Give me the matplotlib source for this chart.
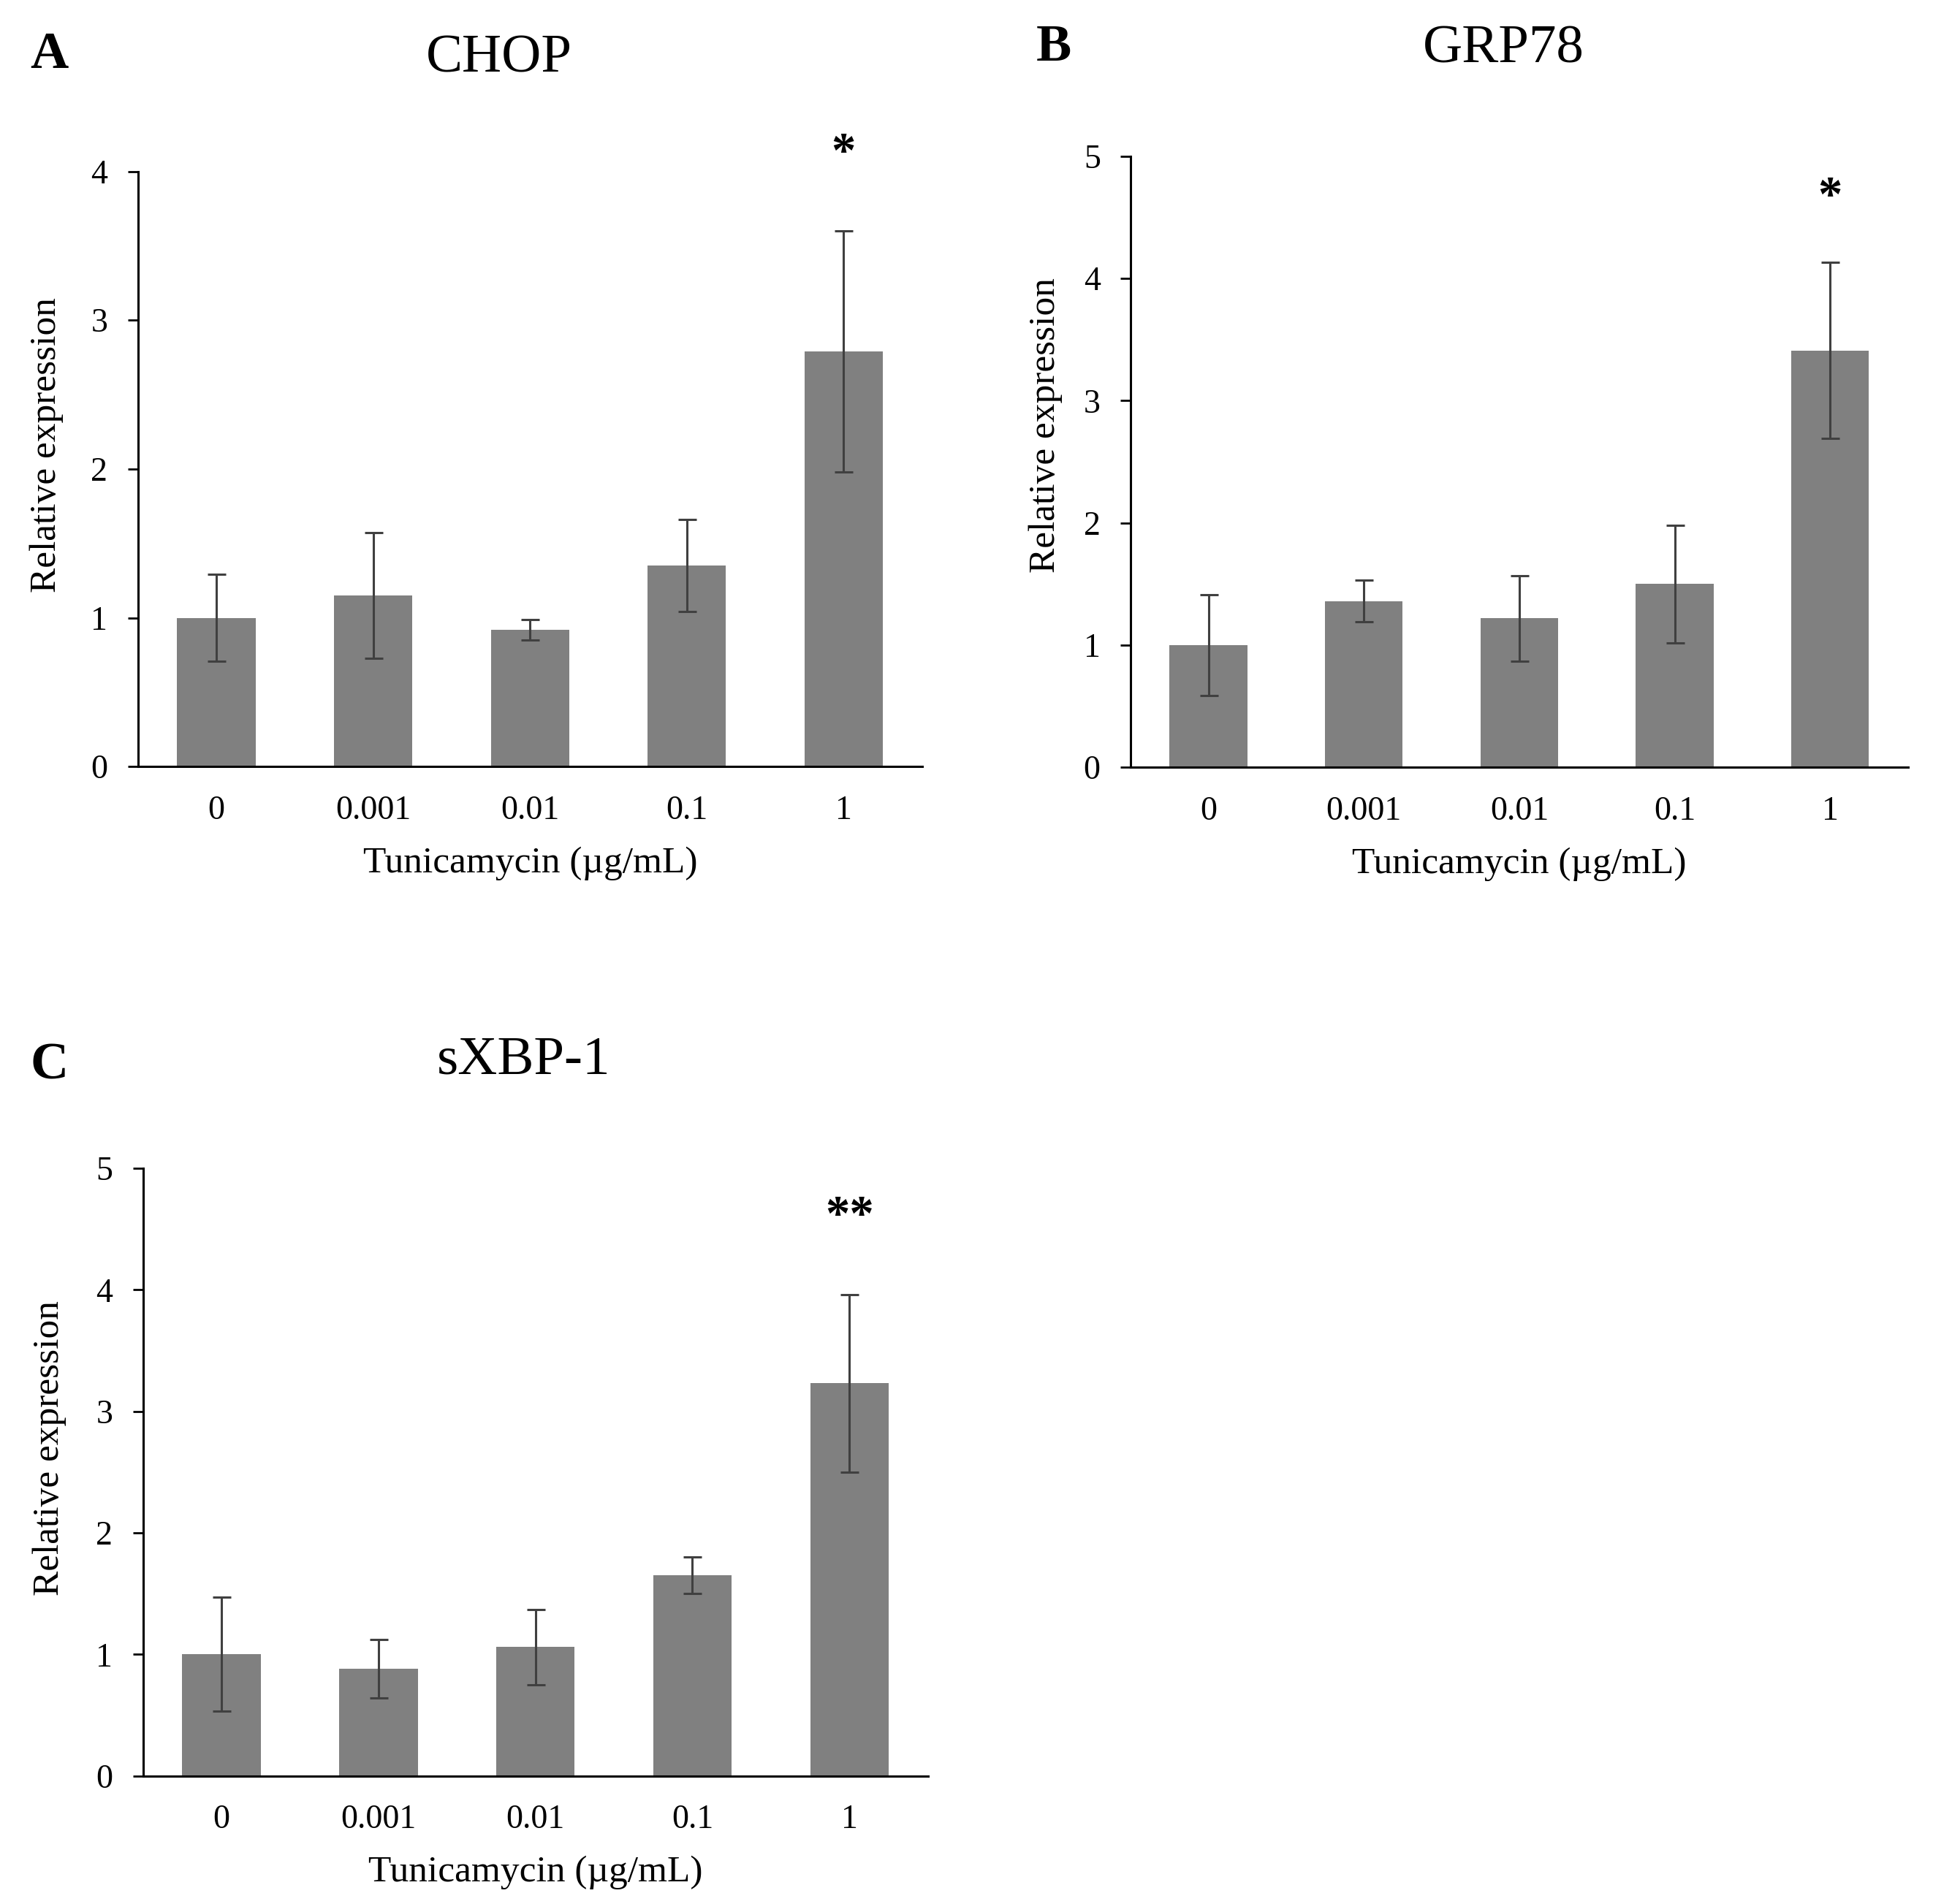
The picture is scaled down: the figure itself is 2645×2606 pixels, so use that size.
import numpy as np
import matplotlib.pyplot as plt
from matplotlib.transforms import blended_transform_factory

plt.rcParams['font.family'] = ['Liberation Serif', 'DejaVu Serif']

doses = ['0', '0.001', '0.01', '0.1', '1']

chop_mean = [1.00, 1.15, 0.92, 1.35, 2.79]
chop_err = [0.29, 0.42, 0.07, 0.31, 0.81]

grp78_mean = [1.00, 1.36, 1.22, 1.50, 3.41]
grp78_err = [0.41, 0.17, 0.35, 0.48, 0.72]

sxbp1_mean = [1.00, 0.88, 1.06, 1.65, 3.23]
sxbp1_err = [0.47, 0.24, 0.31, 0.15, 0.73]

fig = plt.figure(figsize=(26.45, 26.06), dpi=100)


def draw_panel(rect, means, errs, ymax, title, letter, star, star_y,
               title_xy, letter_xy, ylab_xy):
    ax = fig.add_axes(rect)
    x = np.arange(len(doses))
    ax.bar(x, means, width=0.5, color='#808080', zorder=1)
    ax.errorbar(x, means, yerr=errs, fmt='none', ecolor='#404040',
                elinewidth=2.2, capsize=9, capthick=2.2, zorder=2)
    ax.set_xlim(-0.5, len(doses) - 0.5)
    ax.set_ylim(0, ymax)
    ax.set_yticks(range(ymax + 1))
    ax.set_xticks(x)
    ax.set_xticklabels(doses)
    ax.tick_params(axis='x', length=0, pad=28, labelsize=33)
    ax.tick_params(axis='y', length=10, width=2, pad=20, labelsize=33)
    for s in ['top', 'right']:
        ax.spines[s].set_visible(False)
    for s in ['left', 'bottom']:
        ax.spines[s].set_linewidth(2.2)
    ax.set_xlabel('Tunicamycin (\u00b5g/mL)', fontsize=37, labelpad=20)
    ax.set_ylabel('Relative expression', fontsize=37, va='center')
    # label sits a bit above the middle of the axis in the original
    tr = blended_transform_factory(fig.transFigure, ax.transAxes)
    ax.yaxis.set_label_coords(ylab_xy[0], ylab_xy[1], transform=tr)
    ax.text(4, star_y, star, ha='center', va='center', fontsize=48,
            fontweight='bold', clip_on=False)
    fig.text(title_xy[0], title_xy[1], title, ha='center', va='center',
             fontsize=54)
    fig.text(letter_xy[0], letter_xy[1], letter, ha='center', va='center',
             fontsize=52, fontweight='bold')
    return ax


draw_panel([0.0714, 0.5974, 0.4056, 0.3126], chop_mean, chop_err, 4,
           'CHOP', 'A', '*', 4.12, (0.258, 0.969), (0.0255, 0.971),
           (0.024, 0.54))
draw_panel([0.585, 0.597, 0.402, 0.321], grp78_mean, grp78_err, 5,
           'GRP78', 'B', '*', 4.66, (0.778, 0.974), (0.545, 0.975),
           (0.541, 0.56))
draw_panel([0.074, 0.0673, 0.406, 0.3191], sxbp1_mean, sxbp1_err, 5,
           'sXBP-1', 'C', '**', 4.60, (0.271, 0.443), (0.0255, 0.44),
           (0.0255, 0.54))

fig.savefig('out.png', dpi=100, facecolor='white')
